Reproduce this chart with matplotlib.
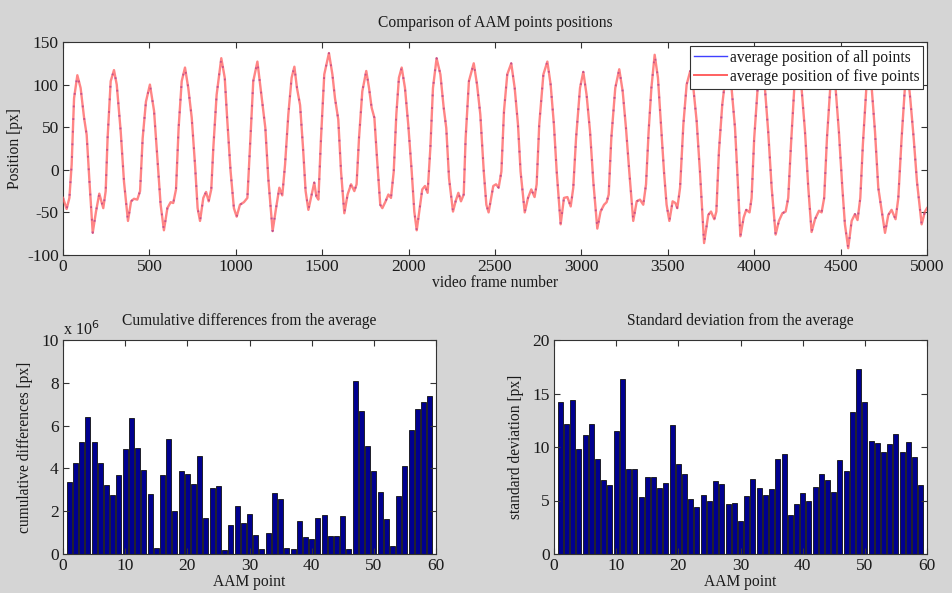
import matplotlib
matplotlib.use("Agg")
import matplotlib.pyplot as plt
from matplotlib.lines import Line2D
import numpy as np

# ---- top panel: mean vertical position of AAM points per video frame ----
frame = [
    0, 21, 37, 50, 64, 83, 102, 122, 137, 152, 172, 191, 210, 233, 247, 258, 276, 295, 311, 334,
    353, 376, 394, 411, 430, 446, 461, 480, 503, 527, 546, 565, 584, 604, 623, 638, 654, 669, 687, 706,
    725, 745, 764, 779, 793, 812, 828, 843, 858, 870, 889, 916, 936, 951, 970, 989, 1005, 1024, 1047, 1067,
    1082, 1101, 1125, 1148, 1171, 1188, 1213, 1233, 1252, 1269, 1285, 1304, 1323, 1339, 1354, 1372, 1389, 1404, 1420, 1439,
    1454, 1466, 1478, 1493, 1512, 1539, 1559, 1574, 1593, 1609, 1628, 1647, 1667, 1686, 1699, 1713, 1732, 1755, 1771, 1786,
    1802, 1817, 1836, 1848, 1867, 1883, 1898, 1914, 1929, 1944, 1960, 1979, 1998, 2018, 2033, 2047, 2064, 2079, 2095, 2110,
    2126, 2141, 2162, 2184, 2203, 2218, 2234, 2257, 2272, 2288, 2303, 2319, 2330, 2349, 2377, 2396, 2415, 2435, 2450, 2463,
    2490, 2506, 2521, 2537, 2552, 2571, 2594, 2614, 2633, 2648, 2672, 2691, 2710, 2729, 2741, 2756, 2780, 2803, 2822, 2841,
    2857, 2880, 2899, 2919, 2938, 2953, 2969, 2992, 3011, 3030, 3050, 3069, 3092, 3111, 3131, 3146, 3158, 3173, 3196, 3219,
    3239, 3258, 3277, 3300, 3320, 3339, 3358, 3374, 3389, 3405, 3424, 3443, 3463, 3478, 3493, 3509, 3528, 3544, 3555, 3571,
    3590, 3609, 3630, 3648, 3667, 3686, 3710, 3734, 3750, 3769, 3781, 3796, 3815, 3831, 3850, 3869, 3889, 3904, 3920, 3939,
    3954, 3973, 3985, 4000, 4020, 4043, 4062, 4081, 4101, 4124, 4143, 4163, 4182, 4197, 4213, 4232, 4253, 4274, 4294, 4313,
    4332, 4352, 4375, 4390, 4405, 4421, 4440, 4456, 4471, 4490, 4510, 4525, 4544, 4564, 4583, 4598, 4614, 4629, 4649, 4666,
    4680, 4699, 4718, 4757, 4776, 4795, 4818, 4834, 4853, 4872, 4887, 4903, 4923, 4942, 4969, 4988, 5000,
]
pos_five = [
    -33, -46, -33, 6, 84, 111, 96, 61, 41, -10, -74, -49, -28, -45, -25, 37, 104, 117, 100, 45,
    -14, -60, -37, -34, -35, -25, 37, 80, 100, 69, 14, -41, -71, -45, -38, -39, -23, 49, 104, 120,
    96, 61, 6, -45, -60, -33, -26, -37, -23, 26, 88, 131, 108, 57, -2, -45, -55, -41, -38, -33,
    26, 104, 127, 88, 49, -10, -72, -45, -21, -30, 6, 65, 108, 121, 96, 76, 26, -25, -47, -29,
    -15, -31, -35, 37, 112, 137, 112, 84, 59, -2, -51, -29, -17, -25, -17, 37, 92, 116, 96, 73,
    61, 14, -41, -45, -37, -29, -33, -2, 65, 108, 120, 96, 53, -2, -49, -71, -45, -23, -19, -27,
    26, 96, 131, 112, 73, 49, -10, -49, -37, -27, -37, -29, 37, 104, 125, 100, 65, -2, -41, -50,
    -19, -17, -21, -2, 69, 112, 125, 96, 53, -2, -50, -33, -23, -32, -17, 53, 112, 127, 100, 53,
    -2, -64, -33, -32, -43, -21, 37, 96, 115, 88, 45, -14, -69, -49, -41, -38, -29, 37, 96, 118,
    92, 49, -2, -60, -37, -35, -41, -17, 45, 96, 135, 108, 45, -2, -41, -60, -37, -39, -45, -21,
    53, 100, 116, 96, 57, -2, -86, -53, -49, -58, -49, 22, 76, 104, 116, 96, 49, -10, -78, -56,
    -47, -50, -33, 37, 96, 120, 96, 45, -21, -76, -60, -51, -49, -33, 30, 96, 121, 96, 45, -21,
    -73, -58, -48, -50, -33, 37, 96, 116, 96, 45, -21, -64, -92, -60, -52, -59, -33, 30, 96, 118,
    96, 45, -21, -74, -53, -47, -58, -33, 37, 96, 116, 84, 37, -14, -64, -49, -45,
]
# the all-points average coincides with the five-point average at this scale
pos_all = list(pos_five)

# ---- bottom panels: per-point statistics ----
aam_point = list(range(1, 60))
cum_diff_1e6 = [
    3.38, 4.25, 5.25, 6.39, 5.22, 4.24, 3.22, 2.74, 3.69, 4.89,
    6.34, 4.95, 3.94, 2.82, 0.26, 3.69, 5.37, 2.02, 3.88, 3.72,
    3.26, 4.58, 1.70, 3.08, 3.20, 0.19, 1.36, 2.22, 1.43, 1.87,
    0.87, 0.25, 1.00, 2.87, 2.59, 0.26, 0.22, 1.54, 0.79, 0.72,
    1.70, 1.84, 0.86, 0.86, 1.76, 0.25, 8.10, 6.68, 5.05, 3.89,
    2.91, 1.64, 0.39, 2.71, 4.11, 5.81, 6.76, 7.10, 7.37,
]
std_dev = [
    14.17, 12.12, 14.39, 9.78, 11.09, 12.18, 8.91, 6.92, 6.45, 11.46,
    16.36, 7.91, 7.91, 5.36, 7.23, 7.23, 6.17, 6.67, 12.02, 8.38,
    7.45, 5.14, 4.36, 5.47, 4.94, 6.85, 6.57, 4.70, 4.80, 3.12,
    5.45, 7.01, 6.14, 5.55, 6.07, 8.88, 9.35, 3.68, 4.67, 5.70,
    4.98, 6.26, 7.45, 6.92, 5.83, 8.75, 7.79, 13.30, 17.26, 14.21,
    10.56, 10.40, 9.53, 10.28, 11.21, 9.53, 10.47, 9.07, 6.42,
]

plt.rcParams["font.family"] = ["Liberation Serif", "DejaVu Serif"]
plt.rcParams["font.size"] = 11.2
plt.rcParams["axes.unicode_minus"] = False

BG = "#d5d5d5"
BAR = "#00008f"
TXT = "#1a1a1a"
LBL = 11.2

fig = plt.figure(figsize=(9.52, 5.93), dpi=100, facecolor=BG)


def matlab_style(ax):
    ax.set_facecolor("white")
    ax.tick_params(direction="in", top=True, right=True, length=4,
                   width=0.8, pad=3, labelsize=12.5, color="#333333",
                   labelcolor=TXT)
    for s in ax.spines.values():
        s.set_linewidth(0.8)
        s.set_color("#333333")


# top: positions over time
ax1 = fig.add_axes([63 / 952, 1 - 255 / 593, 864 / 952, 213 / 593])
ax1.plot(frame, pos_all, color="#3030ff", lw=1.3, linestyle=(0, (1, 6)), zorder=2)
ax1.plot(frame, pos_five, color="#ff5c5c", lw=1.7, alpha=0.75, zorder=3)
ax1.set_xlim(0, 5000)
ax1.set_ylim(-100, 150)
ax1.set_xticks(np.arange(0, 5001, 500))
ax1.set_yticks(np.arange(-100, 151, 50))
matlab_style(ax1)
ax1.set_title("Comparison of AAM points positions", fontsize=LBL, pad=11, color=TXT)
ax1.set_xlabel("video frame number", fontsize=LBL, labelpad=0, color=TXT)
ax1.set_ylabel("Position [px]", fontsize=LBL, labelpad=3, color=TXT)
handles = [Line2D([], [], color="#4040ff", lw=1.0),
           Line2D([], [], color="#ff6060", lw=1.4)]
leg = ax1.legend(handles, ["average position of all points",
                           "average position of five points"],
                 loc="upper right", fontsize=11.2, frameon=True, fancybox=False,
                 borderpad=0.25, handlelength=2.1, handletextpad=0.2,
                 labelspacing=0.2, borderaxespad=0.25)
for t in leg.get_texts():
    t.set_color(TXT)
leg.get_frame().set_edgecolor("#333333")
leg.get_frame().set_linewidth(0.8)
leg.get_frame().set_alpha(1.0)

# bottom left: cumulative differences
ax2 = fig.add_axes([63 / 952, 1 - 554 / 593, 373 / 952, 214 / 593])
ax2.bar(aam_point, cum_diff_1e6, width=0.8, color=BAR, edgecolor="#111111",
        linewidth=0.6)
ax2.set_xlim(0, 60)
ax2.set_ylim(0, 10)
ax2.set_xticks(np.arange(0, 61, 10))
ax2.set_yticks(np.arange(0, 11, 2))
matlab_style(ax2)
ax2.set_title("Cumulative differences from the average", fontsize=LBL, pad=11,
              color=TXT)
ax2.set_xlabel("AAM point", fontsize=LBL, labelpad=0, color=TXT)
ax2.set_ylabel("cumulative differences [px]", fontsize=LBL, labelpad=6, color=TXT)
ax2.text(0.0, 1.005, r"x 10$^6$", transform=ax2.transAxes, fontsize=11.5,
         ha="left", va="bottom", color=TXT)

# bottom right: standard deviation
ax3 = fig.add_axes([554 / 952, 1 - 554 / 593, 373 / 952, 214 / 593])
ax3.bar(aam_point, std_dev, width=0.8, color=BAR, edgecolor="#111111",
        linewidth=0.6)
ax3.set_xlim(0, 60)
ax3.set_ylim(0, 20)
ax3.set_xticks(np.arange(0, 61, 10))
ax3.set_yticks(np.arange(0, 21, 5))
matlab_style(ax3)
ax3.set_title("Standard deviation from the average", fontsize=LBL, pad=11,
              color=TXT)
ax3.set_xlabel("AAM point", fontsize=LBL, labelpad=0, color=TXT)
ax3.set_ylabel("standard deviation [px]", fontsize=LBL, labelpad=6, color=TXT)

fig.savefig("out.png", dpi=100, facecolor=BG)
